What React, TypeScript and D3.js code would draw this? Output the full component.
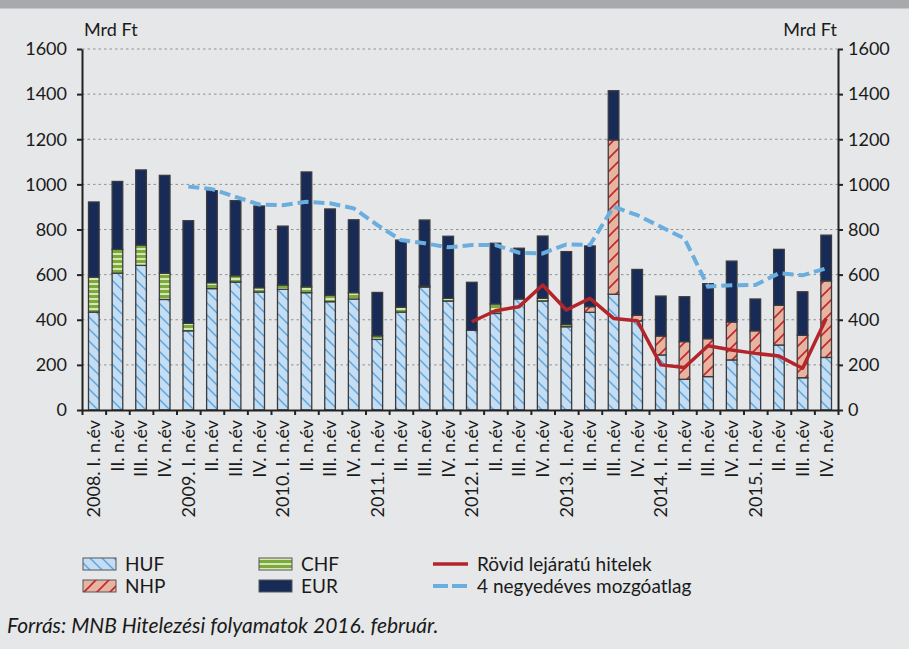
import React, { useEffect, useRef } from 'react';
import * as d3 from 'd3';

// quarterly data, billion HUF (Mrd Ft)
const quarterLabels = [
  '2008. I. n.év', 'II. n.év', 'III. n.év', 'IV. n.év',
  '2009. I. n.év', 'II. n.év', 'III. n.év', 'IV. n.év',
  '2010. I. n.év', 'II. n.év', 'III. n.év', 'IV. n.év',
  '2011. I. n.év', 'II. n.év', 'III. n.év', 'IV. n.év',
  '2012. I. n.év', 'II. n.év', 'III. n.év', 'IV. n.év',
  '2013. I. n.év', 'II. n.év', 'III. n.év', 'IV. n.év',
  '2014. I. n.év', 'II. n.év', 'III. n.év', 'IV. n.év',
  '2015. I. n.év', 'II. n.év', 'III. n.év', 'IV. n.év',
];

const hufValues = [434, 606, 641, 490, 351, 538, 567, 523, 535, 520, 480, 492, 313, 434, 545, 483,
  353, 428, 492, 483, 369, 433, 513, 395, 244, 136, 148, 222, 251, 288, 143, 233];
const nhpValues = [0, 0, 0, 0, 0, 0, 0, 0, 0, 0, 0, 0, 0, 0, 0, 0,
  0, 0, 0, 0, 0, 25, 684, 25, 84, 167, 168, 168, 100, 176, 188, 339];
const chfValues = [155, 106, 90, 116, 33, 26, 28, 19, 19, 26, 28, 28, 16, 22, 4, 12,
  0, 42, 0, 12, 11, 0, 0, 0, 0, 0, 0, 0, 0, 0, 0, 0];
const eurValues = [333, 301, 333, 434, 455, 408, 333, 362, 261, 509, 383, 323, 192, 297, 293, 275,
  213, 269, 225, 276, 322, 269, 218, 203, 177, 199, 244, 270, 141, 248, 193, 203];

const shortTermLoans = [null, null, null, null, null, null, null, null, null, null, null, null, null, null, null, null,
  391, 440, 458, 554, 443, 495, 406, 396, 200, 188, 285, 266, 251, 239, 185, 406];
const movingAverage = [null, null, null, null, 990, 979, 945, 911, 908, 923, 916, 894, 820, 753, 739, 721,
  731, 731, 697, 694, 734, 731, 901, 864, 812, 760, 547, 553, 554, 606, 597, 628];

const yTicks = [0, 200, 400, 600, 800, 1000, 1200, 1400, 1600];

const FONT = 'Lato, "Open Sans", sans-serif';

function createGraph(node: SVGSVGElement) {
  const svg = d3.select(node);
  svg.selectAll('*').remove();

  const left = 82, right = 838, top = 49, bottom = 410;
  const n = quarterLabels.length;

  const defs = svg.append('defs');
  // HUF: light blue with "\" hatch
  const huf = defs.append('pattern').attr('id', 'hufPat').attr('patternUnits', 'userSpaceOnUse')
    .attr('width', 12).attr('height', 12);
  huf.append('rect').attr('width', 12).attr('height', 12).attr('fill', '#c5ddf2');
  huf.append('path').attr('d', 'M-3,-3 L15,15 M-3,9 L3,15 M9,-3 L15,3')
    .attr('stroke', '#5fa6dc').attr('stroke-width', 1.5);
  // NHP: salmon with red "/" hatch
  const nhp = defs.append('pattern').attr('id', 'nhpPat').attr('patternUnits', 'userSpaceOnUse')
    .attr('width', 13).attr('height', 13);
  nhp.append('rect').attr('width', 13).attr('height', 13).attr('fill', '#e6b4a1');
  nhp.append('path').attr('d', 'M-3,16 L16,-3 M-3,3 L3,-3 M10,16 L16,10')
    .attr('stroke', '#c3262c').attr('stroke-width', 1.6);
  // CHF: green horizontal stripes
  const chf = defs.append('pattern').attr('id', 'chfPat').attr('patternUnits', 'userSpaceOnUse')
    .attr('width', 10).attr('height', 5);
  chf.append('rect').attr('width', 10).attr('height', 5).attr('fill', '#7ba93d');
  chf.append('rect').attr('y', 3).attr('width', 10).attr('height', 2).attr('fill', '#d6e7b0');

  svg.append('rect').attr('width', 909).attr('height', 649).attr('fill', '#e6e7e8');
  svg.append('rect').attr('width', 909).attr('height', 8.5).attr('fill', '#a7a9ac');

  const x = d3.scaleBand<number>().domain(d3.range(n)).range([left, right])
    .paddingInner(0.55).paddingOuter(0.275);
  const xTicks = d3.scaleLinear().domain([0, n]).range([left, right]);
  const y = d3.scaleLinear().domain([0, 1600]).range([bottom, top]);

  // gridlines
  svg.append('g').selectAll('line').data(yTicks.filter(d => d > 0)).join('line')
    .attr('x1', left).attr('x2', right)
    .attr('y1', d => y(d)).attr('y2', d => y(d))
    .attr('stroke', '#8f9092').attr('stroke-width', 1).attr('stroke-dasharray', '2.5 3');

  // stacked bars
  const rows = quarterLabels.map((q, i) => ({
    i, HUF: hufValues[i], NHP: nhpValues[i], CHF: chfValues[i], EUR: eurValues[i],
  }));
  const keys = ['HUF', 'NHP', 'CHF', 'EUR'];
  const fills: Record<string, string> = {
    HUF: 'url(#hufPat)', NHP: 'url(#nhpPat)', CHF: 'url(#chfPat)', EUR: '#182b56',
  };
  const series = d3.stack<any>().keys(keys)(rows);

  series.forEach(s => {
    svg.append('g').selectAll('rect').data(s.filter(d => d[1] - d[0] > 0)).join('rect')
      .attr('x', d => x(d.data.i)!)
      .attr('width', x.bandwidth())
      .attr('y', d => y(d[1]))
      .attr('height', d => y(d[0]) - y(d[1]))
      .attr('fill', fills[s.key])
      .attr('stroke', '#3b3b3d')
      .attr('stroke-width', 1.3);
  });

  // lines
  const line = d3.line<number | null>()
    .defined(d => d !== null)
    .x((d, i) => x(i)! + x.bandwidth() / 2)
    .y(d => y(d as number));

  svg.append('path').datum(movingAverage).attr('d', line)
    .attr('fill', 'none').attr('stroke', '#6aaee0').attr('stroke-width', 4)
    .attr('stroke-dasharray', '11 5');

  svg.append('path').datum(shortTermLoans).attr('d', line)
    .attr('fill', 'none').attr('stroke', '#b3242b').attr('stroke-width', 3.5)
    .attr('stroke-linejoin', 'round');

  // axes
  const fmt = d3.format('d');
  const axisLeft = svg.append('g').attr('transform', `translate(${left},0)`)
    .call(d3.axisLeft(y).tickValues(yTicks).tickFormat(fmt).tickSize(5).tickPadding(10).tickSizeOuter(0));
  const axisRight = svg.append('g').attr('transform', `translate(${right},0)`)
    .call(d3.axisRight(y).tickValues(yTicks).tickFormat(fmt).tickSize(5).tickPadding(5).tickSizeOuter(0));
  const axisBottom = svg.append('g').attr('transform', `translate(0,${bottom})`)
    .call(d3.axisBottom(xTicks).tickValues(d3.range(n + 1)).tickSize(5).tickFormat(() => '').tickSizeOuter(0));

  [axisLeft, axisRight, axisBottom].forEach(g => {
    g.select('.domain').attr('stroke', '#222').attr('stroke-width', 2);
    g.selectAll('.tick line').attr('stroke', '#222').attr('stroke-width', 2);
    g.selectAll('text').attr('font-family', FONT).attr('font-size', 18).attr('fill', '#1a1a1a');
  });

  svg.append('text').attr('x', 84).attr('y', 36).text('Mrd Ft')
    .attr('font-family', FONT).attr('font-size', 18).attr('fill', '#1a1a1a');
  svg.append('text').attr('x', 837).attr('y', 36).text('Mrd Ft').attr('text-anchor', 'end')
    .attr('font-family', FONT).attr('font-size', 18).attr('fill', '#1a1a1a');

  // rotated category labels
  svg.append('g').selectAll('text').data(quarterLabels).join('text')
    .attr('transform', (d, i) => `translate(${x(i)! + x.bandwidth() / 2},${bottom + 10}) rotate(-90)`)
    .attr('text-anchor', 'end')
    .attr('dy', '0.35em')
    .attr('font-family', FONT).attr('font-size', 18).attr('fill', '#1a1a1a')
    .text(d => d);

  // legend
  const legend = svg.append('g').attr('font-family', FONT).attr('font-size', 19).attr('fill', '#1a1a1a');
  const boxes = [
    { label: 'HUF', fill: 'url(#hufPat)', lx: 83, ly: 564 },
    { label: 'NHP', fill: 'url(#nhpPat)', lx: 83, ly: 586 },
    { label: 'CHF', fill: 'url(#chfPat)', lx: 259, ly: 564 },
    { label: 'EUR', fill: '#182b56', lx: 259, ly: 586 },
  ];
  boxes.forEach(b => {
    legend.append('rect').attr('x', b.lx).attr('y', b.ly - 6).attr('width', 33).attr('height', 12)
      .attr('fill', b.fill).attr('stroke', '#55575a').attr('stroke-width', 1);
    legend.append('text').attr('x', b.lx + 42).attr('y', b.ly).attr('dy', '0.35em').text(b.label);
  });
  legend.append('line').attr('x1', 433).attr('x2', 468).attr('y1', 564).attr('y2', 564)
    .attr('stroke', '#b3242b').attr('stroke-width', 3.5);
  legend.append('text').attr('x', 477).attr('y', 564).attr('dy', '0.35em').text('Rövid lejáratú hitelek');
  legend.append('line').attr('x1', 433).attr('x2', 468).attr('y1', 586).attr('y2', 586)
    .attr('stroke', '#6aaee0').attr('stroke-width', 4).attr('stroke-dasharray', '15 4');
  legend.append('text').attr('x', 477).attr('y', 586).attr('dy', '0.35em').text('4 negyedéves mozgóatlag');

  svg.append('text').attr('x', 7).attr('y', 633)
    .attr('font-family', FONT).attr('font-size', 21).attr('font-style', 'italic').attr('fill', '#1a1a1a')
    .text('Forrás: MNB Hitelezési folyamatok 2016. február.');
}

export default function App() {
  const ref = useRef<SVGSVGElement>(null);

  useEffect(() => {
    if (ref.current) createGraph(ref.current);
  }, []);

  return (
    <div style={{ position: 'absolute', left: 0, top: 0 }}>
      <svg ref={ref} width={909} height={649} style={{ display: 'block' }} />
    </div>
  );
}
